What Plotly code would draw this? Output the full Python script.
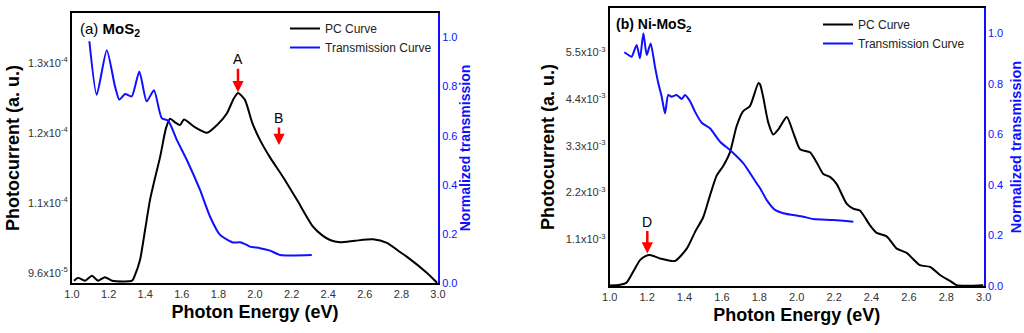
import plotly.graph_objects as go

# ---------------- data: panel (a) MoS2 ----------------
a_pc_ev = [1.011, 1.033, 1.071, 1.109, 1.142, 1.18, 1.219, 1.328, 1.344, 1.372, 1.399, 1.426,
           1.454, 1.481, 1.514, 1.536, 1.563, 1.590, 1.612, 1.672, 1.738, 1.792, 1.847, 1.880,
           1.907, 1.945, 1.984, 2.027, 2.082, 2.153, 2.230, 2.317, 2.366, 2.410, 2.464, 2.546,
           2.645, 2.721, 2.792, 2.831, 2.940, 2.995]
a_pc = [0.989e-4, 0.993e-4, 0.989e-4, 0.996e-4, 0.989e-4, 0.994e-4, 0.989e-4, 0.989e-4, 0.997e-4,
        1.019e-4, 1.061e-4, 1.104e-4, 1.136e-4, 1.165e-4, 1.207e-4, 1.220e-4, 1.215e-4, 1.211e-4,
        1.219e-4, 1.208e-4, 1.200e-4, 1.211e-4, 1.228e-4, 1.247e-4, 1.257e-4, 1.247e-4, 1.215e-4,
        1.190e-4, 1.165e-4, 1.137e-4, 1.104e-4, 1.066e-4, 1.054e-4, 1.047e-4, 1.044e-4, 1.046e-4,
        1.048e-4, 1.043e-4, 1.030e-4, 1.023e-4, 1.000e-4, 0.986e-4]

a_tr_ev = [1.095, 1.135, 1.19, 1.235, 1.259, 1.29, 1.326, 1.368, 1.408, 1.448, 1.49, 1.526,
           1.572, 1.627, 1.699, 1.754, 1.809, 1.881, 1.918, 1.955, 1.973, 2.027, 2.082, 2.137, 2.31]
a_tr = [0.985, 0.767, 0.948, 0.801, 0.747, 0.770, 0.760, 0.862, 0.740, 0.785, 0.672, 0.661,
        0.584, 0.502, 0.380, 0.271, 0.196, 0.165, 0.166, 0.155, 0.148, 0.142, 0.132, 0.114, 0.114]

a_ytick_vals = [1.0e-4, 1.1e-4, 1.2e-4, 1.3e-4]
a_ytick_text = ["9.6x10<sup>-5</sup>", "1.1x10<sup>-4</sup>", "1.2x10<sup>-4</sup>", "1.3x10<sup>-4</sup>"]

# ---------------- data: panel (b) Ni-MoS2 ----------------
b_pc_ev = [1.0, 1.055, 1.09, 1.126, 1.162, 1.189, 1.215, 1.269, 1.349, 1.412, 1.456, 1.50,
           1.536, 1.572, 1.607, 1.643, 1.679, 1.714, 1.75, 1.795, 1.804, 1.82, 1.848, 1.875,
           1.902, 1.947, 1.982, 2.018, 2.071, 2.107, 2.142, 2.178, 2.214, 2.267, 2.303, 2.338,
           2.392, 2.428, 2.481, 2.535, 2.588, 2.659, 2.713, 2.766, 2.82, 2.856, 2.998]
b_pc = [0.01e-3, 0.03e-3, 0.08e-3, 0.34e-3, 0.61e-3, 0.70e-3, 0.73e-3, 0.65e-3, 0.59e-3, 0.88e-3,
        1.27e-3, 1.62e-3, 2.13e-3, 2.60e-3, 2.83e-3, 3.15e-3, 3.77e-3, 4.12e-3, 4.24e-3, 4.78e-3,
        4.75e-3, 4.47e-3, 3.85e-3, 3.57e-3, 3.69e-3, 3.98e-3, 3.61e-3, 3.22e-3, 3.15e-3, 2.91e-3,
        2.64e-3, 2.57e-3, 2.40e-3, 1.94e-3, 1.82e-3, 1.78e-3, 1.43e-3, 1.25e-3, 1.17e-3, 0.88e-3,
        0.78e-3, 0.49e-3, 0.45e-3, 0.26e-3, 0.12e-3, 0.02e-3, 0.02e-3]

b_tr_ev = [1.078, 1.1, 1.117, 1.144, 1.162, 1.18, 1.198, 1.219, 1.242, 1.26, 1.278, 1.296, 1.313,
           1.331, 1.358, 1.385, 1.403, 1.429, 1.456, 1.492, 1.536, 1.59, 1.643, 1.714, 1.786,
           1.804, 1.84, 1.884, 1.928, 2.035, 2.089, 2.196, 2.303]
b_tr = [0.925, 0.914, 0.907, 0.954, 0.901, 1.0, 0.914, 0.960, 0.868, 0.802, 0.749, 0.683, 0.756,
        0.749, 0.756, 0.740, 0.756, 0.732, 0.690, 0.646, 0.624, 0.571, 0.538, 0.486, 0.406,
        0.387, 0.340, 0.301, 0.288, 0.274, 0.265, 0.261, 0.254]

b_ytick_vals = [1.1e-3, 2.2e-3, 3.3e-3, 4.4e-3, 5.5e-3]
b_ytick_text = ["1.1x10<sup>-3</sup>", "2.2x10<sup>-3</sup>", "3.3x10<sup>-3</sup>",
                "4.4x10<sup>-3</sup>", "5.5x10<sup>-3</sup>"]

x_ticks = [1.0, 1.2, 1.4, 1.6, 1.8, 2.0, 2.2, 2.4, 2.6, 2.8, 3.0]
t_ticks = [0.0, 0.2, 0.4, 0.6, 0.8, 1.0]

# peak markers (label, energy, photocurrent at arrow tip)
mark_a = [("A", 1.907, 1.258e-4, -33), ("B", 2.131, 1.1826e-4, -27)]
mark_b = [("D", 1.201, 0.765e-3, -32)]

# ---------------- figure ----------------
FONT = "Liberation Sans, Arial, sans-serif"
BLUE = "#1010ff"
TICKC = "#333333"

fig = go.Figure()
fig.add_trace(go.Scatter(x=a_pc_ev, y=a_pc, mode="lines", name="PC Curve",
                         line=dict(color="black", width=2, shape="spline", smoothing=0.6),
                         xaxis="x", yaxis="y", legend="legend"))
fig.add_trace(go.Scatter(x=a_tr_ev, y=a_tr, mode="lines", name="Transmission Curve",
                         line=dict(color=BLUE, width=2, shape="spline", smoothing=0.6),
                         xaxis="x", yaxis="y2", legend="legend"))
fig.add_trace(go.Scatter(x=b_pc_ev, y=b_pc, mode="lines", name="PC Curve",
                         line=dict(color="black", width=2, shape="spline", smoothing=0.6),
                         xaxis="x2", yaxis="y3", legend="legend2"))
fig.add_trace(go.Scatter(x=b_tr_ev, y=b_tr, mode="lines", name="Transmission Curve",
                         line=dict(color=BLUE, width=2, shape="spline", smoothing=0.6),
                         xaxis="x2", yaxis="y4", legend="legend2"))

H = 333.0
dom_a_y = [1 - 283 / H, 1 - 13 / H]
dom_b_y = [1 - 286 / H, 1 - 8 / H]

xcommon = dict(range=[1, 3], tickvals=x_ticks, tickformat=".1f", showline=True, linecolor="black",
               linewidth=2, mirror=True, ticks="", showgrid=False, zeroline=False,
               tickfont=dict(size=11, color=TICKC),
               title=dict(text="<b>Photon Energy (eV)</b>", font=dict(size=18, color="black"), standoff=6))

fig.update_layout(
    width=1024, height=333, template="none",
    paper_bgcolor="white", plot_bgcolor="white",
    margin=dict(l=0, r=0, t=0, b=0, autoexpand=False),
    font=dict(family=FONT, color="black"),
    xaxis=dict(domain=[72 / 1024, 438 / 1024], anchor="y", **xcommon),
    yaxis=dict(domain=dom_a_y, anchor="x", range=[0.9857e-4, 1.371e-4], tickvals=a_ytick_vals,
               ticktext=a_ytick_text, showline=True, linecolor="black", linewidth=2, ticks="",
               showgrid=False, zeroline=False, tickfont=dict(size=11, color=TICKC),
               title=dict(text="<b>Photocurrent (a. u.)</b>", font=dict(size=18, color="black"), standoff=4)),
    yaxis2=dict(overlaying="y", side="right", anchor="x", range=[0, 1.1], tickvals=t_ticks,
                tickformat=".1f", showline=True, linecolor=BLUE, linewidth=2, ticks="",
                showgrid=False, zeroline=False, tickfont=dict(size=11, color=BLUE),
                title=dict(text="<b>Normalized transmission</b>", font=dict(size=14, color=BLUE), standoff=2)),
    xaxis2=dict(domain=[609.7 / 1024, 983.7 / 1024], anchor="y3", **xcommon),
    yaxis3=dict(domain=dom_b_y, anchor="x2", range=[0, 6.55e-3], tickvals=b_ytick_vals,
                ticktext=b_ytick_text, showline=True, linecolor="black", linewidth=2, ticks="",
                showgrid=False, zeroline=False, tickfont=dict(size=11, color=TICKC),
                title=dict(text="<b>Photocurrent (a. u.)</b>", font=dict(size=18, color="black"), standoff=6)),
    yaxis4=dict(overlaying="y3", side="right", anchor="x2", range=[0, 1.1], tickvals=t_ticks,
                tickformat=".1f", showline=True, linecolor=BLUE, linewidth=2, ticks="",
                showgrid=False, zeroline=False, tickfont=dict(size=11, color=BLUE),
                title=dict(text="<b>Normalized transmission</b>", font=dict(size=14.5, color=BLUE), standoff=9)),
    legend=dict(x=285 / 1024, y=1 - 14 / H, xanchor="left", yanchor="top", bgcolor="rgba(0,0,0,0)",
                font=dict(size=12, color="#222"), tracegroupgap=0, itemwidth=30),
    legend2=dict(x=818 / 1024, y=1 - 10 / H, xanchor="left", yanchor="top", bgcolor="rgba(0,0,0,0)",
                 font=dict(size=12, color="#222"), tracegroupgap=0, itemwidth=30),
    showlegend=True,
)

annots = [
    dict(text="(a) <b>MoS<sub>2</sub></b>", xref="paper", yref="paper", x=78 / 1024, y=1 - 30 / H,
         xanchor="left", yanchor="middle", showarrow=False, font=dict(size=15, color="black")),
    dict(text="<b>(b) Ni-MoS<sub>2</sub></b>", xref="paper", yref="paper", x=614 / 1024, y=1 - 25 / H,
         xanchor="left", yanchor="middle", showarrow=False, font=dict(size=14, color="black")),
]
arrow_style = dict(ax=0, showarrow=True, arrowcolor="red", arrowwidth=2.5, arrowhead=2,
                   arrowsize=0.9, font=dict(size=14, color="black"))
for lbl, xv, yv, off in mark_a:
    annots.append(dict(text=lbl, xref="x", yref="y", x=xv, y=yv, ay=off, **arrow_style))
for lbl, xv, yv, off in mark_b:
    annots.append(dict(text=lbl, xref="x2", yref="y3", x=xv, y=yv, ay=off, **arrow_style))
fig.update_layout(annotations=annots)

fig.write_html("out.html", config={"displayModeBar": False},
               post_script="document.body.style.margin='0';document.body.style.padding='0';")
